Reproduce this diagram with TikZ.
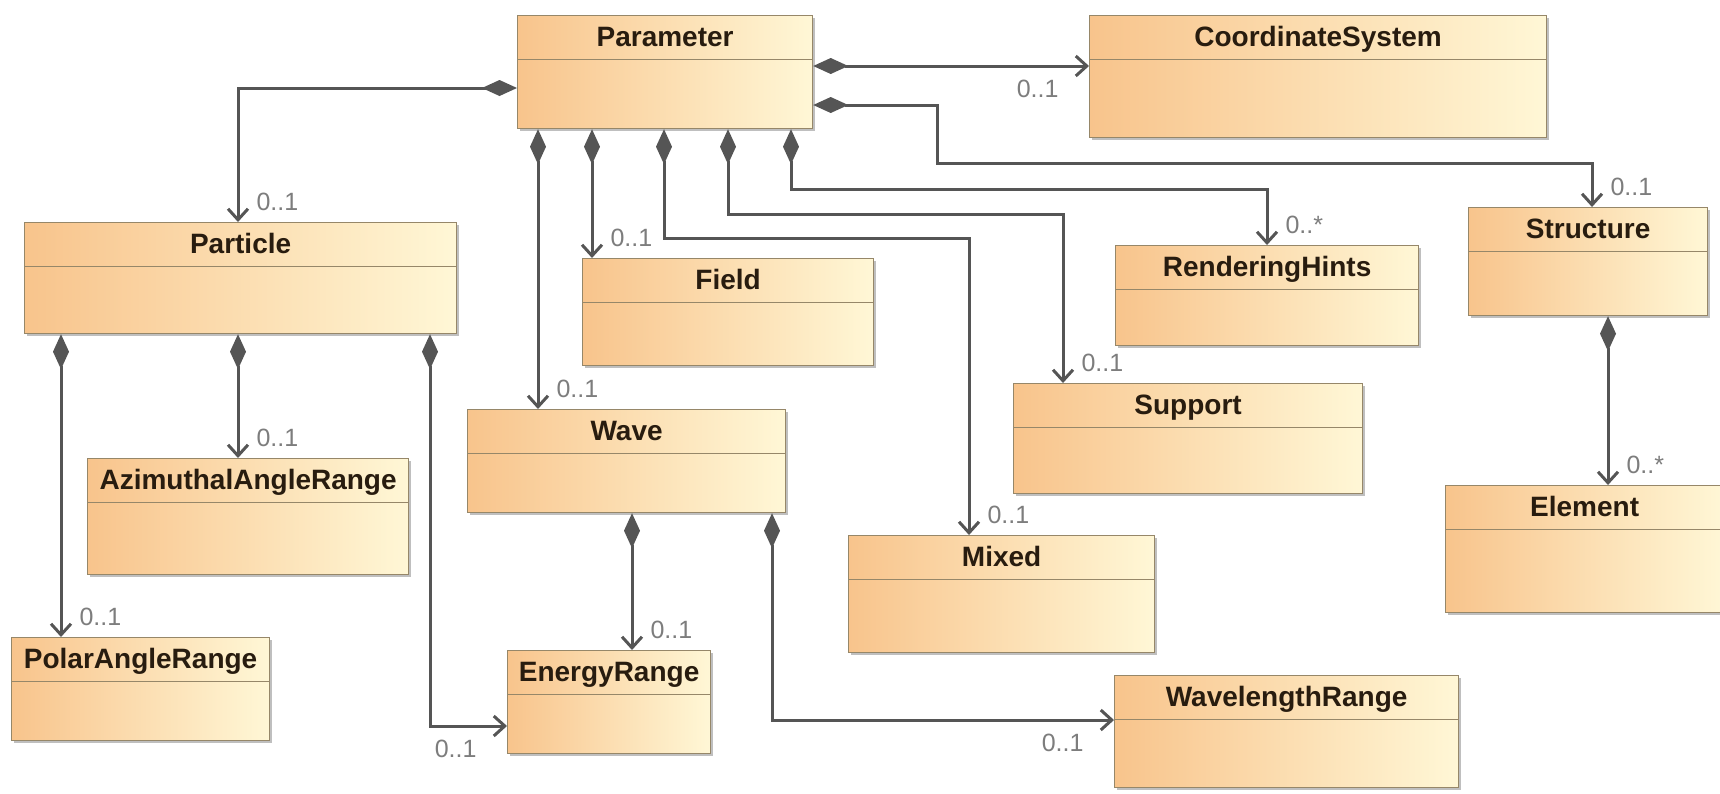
\documentclass[tikz,border=0pt]{standalone}
\usepackage{fontspec}
\setmainfont{Liberation Sans}
\usepackage{xcolor}
\usetikzlibrary{arrows.meta,shadows}

\definecolor{boxleft}{RGB}{248,196,140}
\definecolor{boxright}{RGB}{255,247,214}
\definecolor{boxline}{RGB}{150,135,105}
\definecolor{classtext}{RGB}{40,28,15}
\definecolor{linkgray}{RGB}{85,85,85}
\definecolor{multgray}{RGB}{125,125,125}

\begin{document}
\begin{tikzpicture}[
  x=1pt, y=-1pt,
  cls/.style={draw=boxline, line width=1.2pt, left color=boxleft, right color=boxright,
              anchor=north west, inner sep=0pt, text height=31pt, text depth=#1,
              font=\fontsize{28}{32}\selectfont\bfseries, text=classtext,
              drop shadow={shadow xshift=2.5pt, shadow yshift=-2.5pt, fill=black!50, opacity=.5},
              path picture={\draw[boxline, line width=1.2pt]
                ([yshift=-44pt]path picture bounding box.north west) --
                ([yshift=-44pt]path picture bounding box.north east);}},
  comp/.style={{Diamond[length=35pt,width=16pt]}-{Straight Barb[length=11pt,width=20pt]},
               draw=linkgray, line width=3pt},
  mult/.style={font=\fontsize{25}{30}\selectfont, text=multgray, inner sep=0pt,
               anchor=base west, xshift=17pt, yshift=12pt},
  multl/.style={font=\fontsize{25}{30}\selectfont, text=multgray, inner sep=0pt,
                anchor=base east, xshift=-29pt, yshift=-31pt}
]
  \useasboundingbox[fill=white] (0,0) rectangle (1720,793);

  \node[cls=82pt, minimum width=295pt] (param)    at (517,15)  {Parameter};
  \node[cls=91pt, minimum width=457pt] (coord)    at (1089,15) {CoordinateSystem};
  \node[cls=80pt, minimum width=432pt] (particle) at (24,222)  {Particle};
  \node[cls=76pt, minimum width=291pt] (field)    at (582,258) {Field};
  \node[cls=69pt, minimum width=303pt] (hints)    at (1115,245) {RenderingHints};
  \node[cls=77pt, minimum width=239pt] (struct)   at (1468,207) {Structure};
  \node[cls=72pt, minimum width=318pt] (wave)     at (467,409) {Wave};
  \node[cls=79pt, minimum width=349pt] (support)  at (1013,383) {Support};
  \node[cls=85pt, minimum width=321pt] (azimuth)  at (87,458)  {AzimuthalAngleRange};
  \node[cls=86pt, minimum width=306pt] (mixed)    at (848,535) {Mixed};
  \node[cls=96pt, minimum width=278pt] (element)  at (1445,485) {Element};
  \node[cls=72pt, minimum width=258pt] (polar)    at (11,637)  {PolarAngleRange};
  \node[cls=72pt, minimum width=203pt] (energy)   at (507,650) {EnergyRange};
  \node[cls=81pt, minimum width=344pt] (wavelen)  at (1114,675) {WavelengthRange};

  \draw[comp] ([yshift=-73pt]param.north west) -| ([xshift=214pt]particle.north west)
    node[mult] (mpart) {0..1};
  \draw[comp] ([yshift=-51pt]param.north east) -- ([yshift=-51pt]coord.north west)
    node[multl] (mcoord) {0..1};
  \draw[comp] ([yshift=-90pt]param.north east) -- ++(124,0) -- ++(0,58)
    -| ([xshift=124pt]struct.north west) node[mult] (mstruct) {0..1};
  \draw[comp] ([xshift=21pt]param.south west) -- ([xshift=71pt]wave.north west)
    node[mult] (mwave) {0..1};
  \draw[comp] ([xshift=75pt]param.south west) -- ([xshift=10pt]field.north west)
    node[mult] (mfield) {0..1};
  \draw[comp] ([xshift=147pt]param.south west) -- ++(0,109)
    -| ([xshift=121pt]mixed.north west) node[mult] (mmixed) {0..1};
  \draw[comp] ([xshift=211pt]param.south west) -- ++(0,85)
    -| ([xshift=50pt]support.north west) node[mult] (msupport) {0..1};
  \draw[comp] ([xshift=274pt]param.south west) -- ++(0,60)
    -| ([xshift=152pt]hints.north west) node[mult] (mhints) {0..*};

  \draw[comp] ([xshift=37pt]particle.south west) -- ([xshift=50pt]polar.north west)
    node[mult] (mpolar) {0..1};
  \draw[comp] ([xshift=214pt]particle.south west) -- ([xshift=151pt]azimuth.north west)
    node[mult] (mazimuth) {0..1};
  \draw[comp] ([xshift=406pt]particle.south west) |- ([yshift=-76pt]energy.north west)
    node[multl] (menergyl) {0..1};

  \draw[comp] ([xshift=165pt]wave.south west) -- ([xshift=125pt]energy.north west)
    node[mult] (menergy) {0..1};
  \draw[comp] ([xshift=305pt]wave.south west) |- ([yshift=-45pt]wavelen.north west)
    node[multl] (mwavelen) {0..1};

  \draw[comp] ([xshift=140pt]struct.south west) -- ([xshift=163pt]element.north west)
    node[mult] (melement) {0..*};
\end{tikzpicture}
\end{document}
